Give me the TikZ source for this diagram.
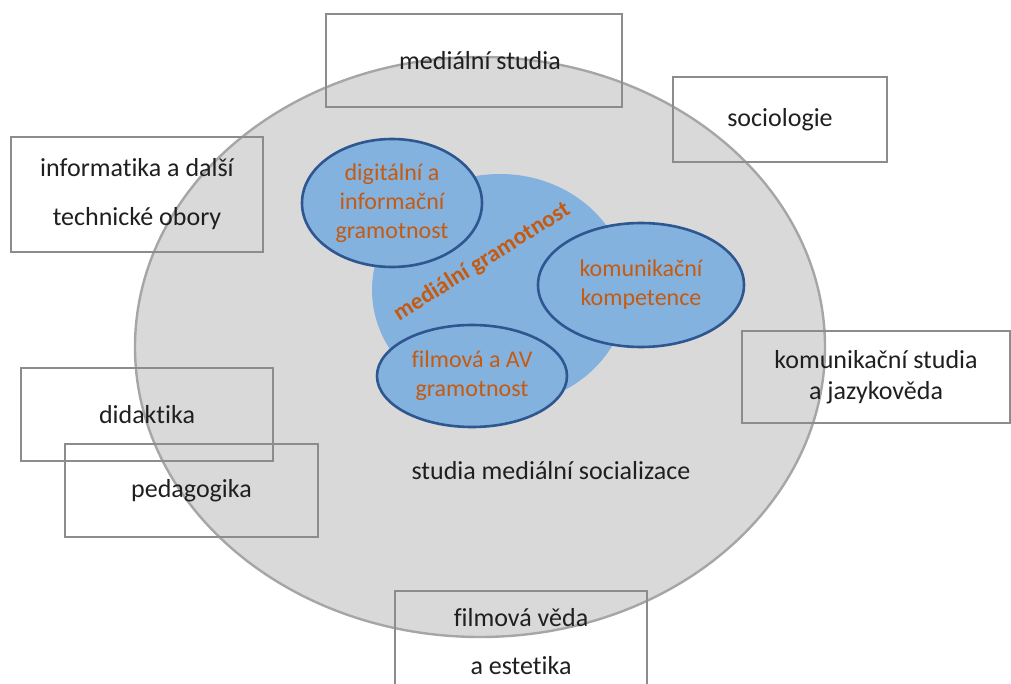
\documentclass[tikz,border=0pt]{standalone}
\usepackage{fontspec}
\setmainfont{Carlito}[Ligatures={NoCommon,NoRare,NoContextual}]
\usepackage[]{xcolor}
\usepackage[]{tikz}
\usetikzlibrary{shapes.geometric}
\definecolor{sedafill}{HTML}{D9D9D9}
\definecolor{sedaline}{HTML}{A6A6A6}
\definecolor{ramecek}{HTML}{8C8C8C}
\definecolor{modra}{HTML}{84B2DF}
\definecolor{modraline}{HTML}{2E5690}
\definecolor{oranzova}{HTML}{C55A11}
\tikzset{obor/.style={draw=ramecek,line width=1.3pt,align=center,inner sep=0pt,text=black!88,font=\fontsize{26}{31}\selectfont}}
\tikzset{oblast/.style={ellipse,draw=modraline,line width=2.6pt,fill=modra,align=center,inner sep=0pt,text=oranzova,font=\fontsize{24}{29}\selectfont}}

\begin{document}
\begin{tikzpicture}[x=1pt,y=-1pt] % souradnice v pixelech
            \useasboundingbox (0,0) rectangle (1011,684);
            % velka elipsa
            \draw[fill=sedafill,draw=sedaline,line width=2.4pt] (480,347) ellipse [x radius=345pt,y radius=290pt];
            \node[font=\fontsize{26}{31}\selectfont,text=black!88] (socializace) at (551,471) {studia mediální socializace};
            % okolni obory
            \node[obor,minimum width=296,minimum height=93] (medst) at (474,60.5) {\hspace*{12pt}mediální studia};
            \node[obor,minimum width=214,minimum height=85] (socio) at (780,119.5) {sociologie};
            \node[obor,minimum width=252,minimum height=115] (info) at (137,194.5) {informatika a další\\[18pt]technické obory};
            \node[obor,minimum width=268,minimum height=92] (komst) at (876,377) {komunikační studia\\a jazykověda};
            \node[obor,minimum width=252,minimum height=93] (didak) at (147,414.5) {didaktika};
            \node[obor,minimum width=253,minimum height=93] (pedag) at (191.5,490.5) {pedagogika};
            \node[obor,minimum width=252,minimum height=102] (film) at (521,642) {filmová věda\\[17pt]a estetika};
            % medialni gramotnost
            \fill[modra] (500,290) ellipse [x radius=128pt,y radius=116pt];
            \node[oblast,minimum width=180,minimum height=128] (digi) at (392,203) {digitální a\\informační\\gramotnost};
            \node[oblast,minimum width=206,minimum height=124] (komun) at (641,285) {komunikační\\kompetence};
            \node[oblast,minimum width=190,minimum height=102] (filmav) at (472,376) {filmová a AV\\gramotnost};
            \node[rotate=32,text=oranzova,font=\bfseries\fontsize{23.5}{28}\selectfont] (medgr) at (482,262) {mediální gramotnost};
        \end{tikzpicture}
\end{document}
